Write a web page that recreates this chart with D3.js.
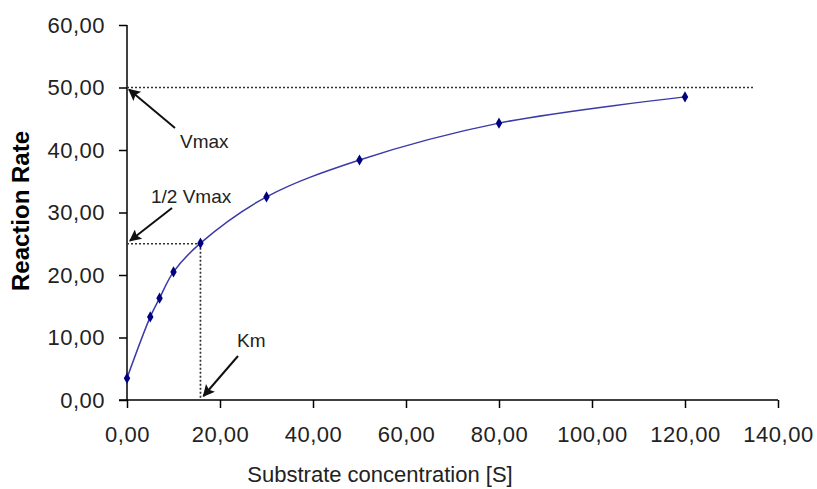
<!DOCTYPE html>
<html>
<head>
<meta charset="utf-8">
<script src="https://cdn.jsdelivr.net/npm/d3@7"></script>
<style>
  body { margin: 0; background: #fff; }
  svg { display: block; font-family: "Liberation Sans", Arial, sans-serif; }
  .axis path, .axis line { stroke: #000; stroke-width: 1.5; }
  .axis text { font-size: 22px; fill: #222; letter-spacing: 0.5px; }
  .note { font-size: 19px; fill: #222; }
</style>
</head>
<body>
<svg width="817" height="489"></svg>
<script>
"use strict";
// substrate concentration [S] and measured reaction rate
const substrate = [0, 5, 7, 10, 15.8, 30, 50, 80, 120];
const rate = [3.5, 13.3, 16.3, 20.5, 25.1, 32.5, 38.4, 44.3, 48.5];
const xTicks = [0, 20, 40, 60, 80, 100, 120, 140];
const yTicks = [0, 10, 20, 30, 40, 50, 60];
const vmax = 50;
const km = 15.8;
const vmaxEnd = 135;

const svg = d3.select("svg");
const x = d3.scaleLinear().domain([0, 140]).range([127, 778]);
const y = d3.scaleLinear().domain([0, 60]).range([400, 25]);
const fmt = d => d3.format(".2f")(d).replace(".", ",");

svg.append("defs").append("marker")
    .attr("id", "head")
    .attr("viewBox", "0 0 10 10")
    .attr("refX", 9).attr("refY", 5)
    .attr("markerWidth", 7).attr("markerHeight", 6)
    .attr("orient", "auto")
    .append("path")
    .attr("d", "M0,0L10,5L0,10L2,5Z")
    .attr("fill", "#111");

// axes
svg.append("g")
    .attr("class", "axis")
    .attr("transform", `translate(0,${y(0)})`)
    .call(d3.axisBottom(x).tickValues(xTicks).tickSize(8).tickPadding(18).tickFormat(fmt))
    .select(".domain").attr("d", `M119,0H${x(140)}`);
svg.append("g")
    .attr("class", "axis")
    .attr("transform", `translate(${x(0)},0)`)
    .call(d3.axisLeft(y).tickValues(yTicks).tickSize(8).tickPadding(14).tickFormat(fmt))
    .select(".domain").attr("d", `M0,${y(60)}V${y(0)}`);

// Vmax and Km guides
function guide(x1, y1, x2, y2) {
    svg.append("line")
        .attr("x1", x(x1)).attr("y1", y(y1))
        .attr("x2", x(x2)).attr("y2", y(y2))
        .attr("stroke", "#333")
        .attr("stroke-width", 1.7)
        .attr("stroke-dasharray", "2,2");
}
guide(0, vmax, vmaxEnd, vmax);
guide(0, vmax / 2, km, vmax / 2);
guide(km, vmax / 2, km, 0);

// curve
svg.append("path")
    .datum(substrate.map((s, i) => [s, rate[i]]))
    .attr("fill", "none")
    .attr("stroke", "#3a3aa8")
    .attr("stroke-width", 1.5)
    .attr("d", d3.line().x(d => x(d[0])).y(d => y(d[1])).curve(d3.curveCatmullRom.alpha(0.5)));

svg.selectAll(".pt")
    .data(substrate)
    .enter()
    .append("path")
    .attr("class", "pt")
    .attr("transform", (d, i) => `translate(${x(d)},${y(rate[i])})`)
    .attr("d", d3.symbol(d3.symbolDiamond, 36))
    .attr("fill", "#000080");

// annotations
function arrow(x1, y1, x2, y2) {
    svg.append("line")
        .attr("x1", x1).attr("y1", y1).attr("x2", x2).attr("y2", y2)
        .attr("stroke", "#111").attr("stroke-width", 2)
        .attr("marker-end", "url(#head)");
}
arrow(175, 128, x(0) + 2, y(vmax) + 2);
svg.append("text").attr("class", "note").attr("x", 180).attr("y", 148).text("Vmax");

arrow(172, 208, x(0) + 3, y(vmax / 2) - 3);
svg.append("text").attr("class", "note").attr("x", 151).attr("y", 203).text("1/2 Vmax");

arrow(238, 356, x(km) + 3, y(0) - 4);
svg.append("text").attr("class", "note").attr("x", 237).attr("y", 347).text("Km");

// axis titles
svg.append("text")
    .attr("transform", `translate(29,211) rotate(-90)`)
    .attr("text-anchor", "middle")
    .style("font-size", "24px")
    .style("font-weight", "bold")
    .text("Reaction Rate");
svg.append("text")
    .attr("x", 380).attr("y", 482)
    .attr("text-anchor", "middle")
    .style("font-size", "22px")
    .style("fill", "#222")
    .text("Substrate concentration [S]");
</script>
</body>
</html>
